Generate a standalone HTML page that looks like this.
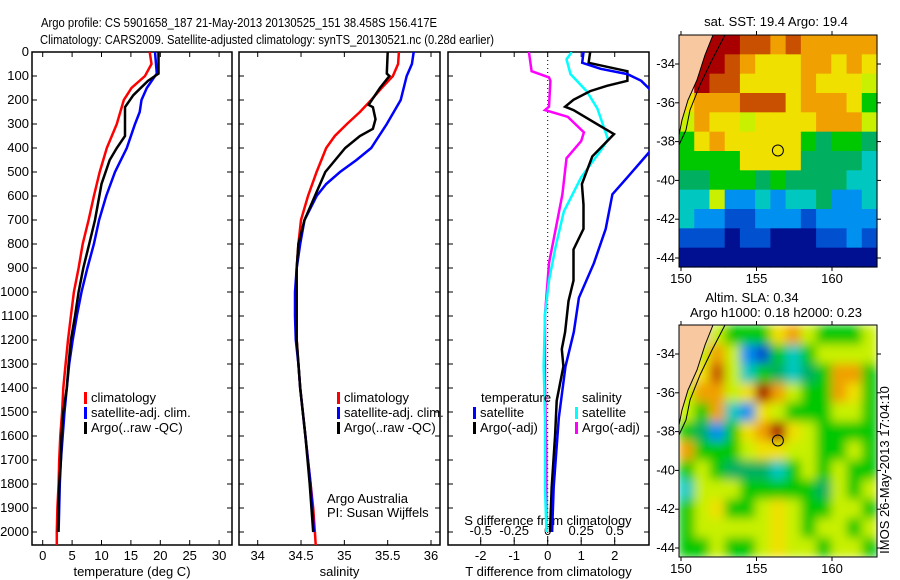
<!DOCTYPE html>
<html><head><meta charset="utf-8"><style>
body{margin:0;background:#fff}
svg{display:block;font-family:"Liberation Sans",sans-serif}
text{font-size:13px;fill:#000}
</style></head><body>
<svg id="c" width="900" height="580" viewBox="0 0 900 580">
<defs><filter id="blur" x="0" y="0" width="1" height="1"><feGaussianBlur stdDeviation="5"/></filter>
<clipPath id="clip-slamap"><rect x="679" y="325" width="198" height="232"/></clipPath></defs>
<text x="41" y="27" font-size="14" textLength="396" lengthAdjust="spacingAndGlyphs">Argo profile: CS 5901658_187 21-May-2013 20130525_151 38.458S 156.417E</text>
<text x="40" y="44" font-size="14" textLength="454" lengthAdjust="spacingAndGlyphs">Climatology: CARS2009. Satellite-adjusted climatology: synTS_20130521.nc (0.28d earlier)</text>
<g id="g"></g>
</svg>
<script>
// ---------- data ----------
const depthTicks=[0,100,200,300,400,500,600,700,800,900,1000,1100,1200,1300,1400,1500,1600,1700,1800,1900,2000];
const tempTicks=[0,5,10,15,20,25,30];
const salTicks=[34,34.5,35,35.5,36];
const sdiffTicks=[-0.5,-0.25,0,0.25,0.5];
const sdiffLabels=["-0.5","-0.25","0","0.25","0.5"];
const tdiffTicks=[-2,-1,0,1,2];
const tempClim=[[0,18.2],[50,18.5],[100,17.4],[150,15.1],[200,13.8],[300,12.6],[400,10.9],[500,9.7],[600,8.7],[700,7.8],[800,6.8],[900,6.1],[1000,5.3],[1100,4.8],[1200,4.3],[1300,3.9],[1400,3.5],[1500,3.3],[1600,3.0],[1700,2.8],[1800,2.7],[1900,2.5],[2000,2.4],[2060,2.4]];
const tempSat=[[0,19.1],[90,19.4],[100,19.1],[150,17.7],[200,16.8],[250,16.5],[300,15.7],[400,14.3],[500,12.3],[600,10.8],[700,9.6],[800,8.7],[900,7.6],[1000,6.6],[1100,5.8],[1200,5.1],[1300,4.5],[1400,4.1],[1500,3.7],[1600,3.4],[1700,3.1],[1800,2.9],[1900,2.8],[2000,2.7]];
const tempArgo=[[0,19.7],[90,19.7],[120,17.9],[180,15.4],[230,14.0],[350,14.0],[400,12.6],[450,11.4],[550,10.0],[700,8.9],[800,7.9],[900,6.9],[1000,6.1],[1100,5.5],[1200,4.8],[1300,4.4],[1400,4.1],[1500,3.5],[1600,3.2],[1700,3.1],[1800,2.8],[1900,2.7],[2000,2.6]];
const salClim=[[0,35.63],[50,35.62],[100,35.56],[150,35.43],[200,35.31],[250,35.18],[300,35.03],[350,34.89],[400,34.79],[500,34.68],[600,34.58],[700,34.50],[800,34.47],[900,34.45],[1000,34.44],[1100,34.44],[1200,34.45],[1300,34.47],[1400,34.49],[1500,34.52],[1600,34.55],[1700,34.58],[1800,34.61],[1900,34.64],[2000,34.66],[2060,34.67]];
const salSat=[[0,35.80],[50,35.78],[100,35.72],[200,35.65],[300,35.49],[400,35.31],[450,35.14],[500,34.95],[550,34.79],[600,34.68],[700,34.54],[800,34.49],[900,34.45],[1000,34.43],[1100,34.43],[1200,34.44],[1300,34.47],[1400,34.49],[1500,34.52],[1600,34.55],[1700,34.58],[1800,34.61],[1900,34.63],[2000,34.65]];
const salArgo=[[0,35.50],[90,35.49],[100,35.52],[150,35.41],[220,35.28],[230,35.33],[280,35.36],[320,35.33],[350,35.18],[400,35.01],[500,34.78],[600,34.66],[700,34.54],[800,34.47],[900,34.45],[1000,34.45],[1200,34.45],[1400,34.49],[1600,34.55],[1800,34.60],[2000,34.64]];
const tdiffSat=[[0,1.07],[45,1.03],[70,1.58],[92,2.38],[120,2.79],[163,3.1],[250,3.8],[350,3.6],[414,3.05],[522,2.38],[593,1.93],[737,1.73],[880,1.38],[1024,0.93],[1167,0.78],[1310,0.53],[1525,0.33],[1812,0.18],[2000,0.13]];
const tdiffArgo=[[0,1.27],[45,1.22],[80,2.38],[120,2.38],[141,1.77],[163,1.27],[199,0.77],[228,0.52],[242,0.77],[292,1.37],[342,1.98],[435,1.33],[550,1.02],[636,1.07],[737,1.07],[823,0.77],[952,0.77],[1038,0.62],[1167,0.52],[1238,0.42],[1310,0.47],[1453,0.27],[1597,0.22],[1812,0.12],[2000,0.07]];
const sdiffSat=[[0,0.18],[30,0.14],[92,0.17],[163,0.29],[235,0.37],[364,0.45],[407,0.40],[522,0.25],[665,0.12],[809,0.06],[952,0.01],[1095,-0.02],[1310,-0.03],[1525,-0.02],[1812,-0.02],[2000,-0.01]];
const sdiffArgo=[[0,-0.14],[80,-0.12],[106,0.01],[120,0.02],[228,0.01],[242,-0.02],[270,0.15],[335,0.27],[371,0.25],[443,0.14],[593,0.11],[737,0.06],[880,0.01],[1095,-0.02],[1382,-0.02],[1668,-0.01],[2000,-0.01]];
const lonTicks=[150,155,160];
const latTicks=[-34,-36,-38,-40,-42,-44];
const sstGrid=["sRRRrrOrOOOOO","sRRrOYYYOOYOY","sRrrYYYYOYYYL","YOOOrrrYOOOYG","LOYYLYYYYOOOL","GYOYYYYYGgGGg","GGGGYYYYggggC","ggGGGgGggggCC","CCLBBCBCCgBBC","CBBbbBBBbBBBB","bbbNbbNNNbbBb","NNNNNNNNNNNNN"];
const slaGrid=["ssLGGGYOLGGGL","sLOLBbGCGLLLL","sYrLCGgCgGOOG","LOOLYROLGGOYG","LGOCBYLGGGLLG","GgBGYORYLGGGG","OGGGLYYLLGGLG","GLGgggCGLGLGG","CLLLGGGGGgLGL","GLYGGLYLGGLLG","GLLLLLYLGLLGL","GGLGGLYLLGLLG"];
const argoLon=156.417, argoLat=-38.458;

// ---------- helpers ----------
const NS="http://www.w3.org/2000/svg";
const G=document.getElementById('g');
function el(tag,attrs,parent){const e=document.createElementNS(NS,tag);for(const k in attrs)e.setAttribute(k,attrs[k]);(parent||G).appendChild(e);return e;}
function txt(x,y,s,anchor,parent,size){const t=el('text',{x:x,y:y,'text-anchor':anchor||'start'},parent);if(size)t.setAttribute('font-size',size);t.textContent=s;return t;}
const TOP=52,BOT=545;
const yD=d=>TOP+d*0.24;

function panel(name,L,R,xf,ticks,labels,xlabel){
  const g=el('g',{});
  
  
  const clip=el('clipPath',{id:'clip-'+name},g);
  el('rect',{x:L,y:TOP,width:R-L,height:BOT-TOP},clip);
  const fr=el('rect',{x:L,y:TOP,width:R-L,height:BOT-TOP,fill:'none',stroke:'#000','stroke-width':1.5},g);
  
  
  depthTicks.forEach(d=>{const y=yD(d);el('line',{x1:L,x2:L+5,y1:y,y2:y,stroke:'#000'},g);el('line',{x1:R,x2:R-5,y1:y,y2:y,stroke:'#000'},g);});
  ticks.forEach((v,i)=>{const x=xf(v);el('line',{x1:x,x2:x,y1:BOT,y2:BOT-5,stroke:'#000'},g);el('line',{x1:x,x2:x,y1:TOP,y2:TOP+5,stroke:'#000'},g);
    if(labels){const t=txt(x,BOT+15,labels[i],'middle',g);}});
  if(xlabel){const t=txt((L+R)/2,BOT+31,xlabel,'middle',g);}
  return g;
}
function line(g,data,xf,color,name,clipId,w){
  const p=data.map((q,i)=>(i?'L':'M')+xf(q[1]).toFixed(1)+' '+yD(q[0]).toFixed(1)).join(' ');
  const e=el('path',{d:p,fill:'none',stroke:color,'stroke-width':w||2.5,'clip-path':'url(#'+clipId+')'},g);
  
  
}
function legend(g,x,y,color,label,name){
  const b=el('rect',{x:x,y:y-10,width:3,height:12,fill:color},g);
  
  
  const t=txt(x+7,y,label,'start',g,12);
  
  
}

depthTicks.forEach(d=>{const t=txt(29,yD(d)+4,String(d),'end',G,13);
  
  });

const xT=v=>42.7+v*5.88;
const gT=panel('temperature',32,232,xT,tempTicks,tempTicks.map(String),'temperature (deg C)');
line(gT,tempClim,xT,'#f00','temp-climatology-line','clip-temperature');
line(gT,tempSat,xT,'#00f','temp-satellite-line','clip-temperature');
line(gT,tempArgo,xT,'#000','temp-argo-line','clip-temperature');
legend(gT,84,402,'#f00','climatology','temp-legend-climatology');
legend(gT,84,417,'#00f','satellite-adj. clim.','temp-legend-satellite');
legend(gT,84,432,'#000','Argo(..raw -QC)','temp-legend-argo');

const xS=v=>257.7+(v-34)*86.65;
const gS=panel('salinity',239,440,xS,salTicks,salTicks.map(String),'salinity');
line(gS,salClim,xS,'#f00','sal-climatology-line','clip-salinity');
line(gS,salSat,xS,'#00f','sal-satellite-line','clip-salinity');
line(gS,salArgo,xS,'#000','sal-argo-line','clip-salinity');
legend(gS,337,402,'#f00','climatology','sal-legend-climatology');
legend(gS,337,417,'#00f','satellite-adj. clim.','sal-legend-satellite');
legend(gS,337,432,'#000','Argo(..raw -QC)','sal-legend-argo');
let t1=txt(327,503,'Argo Australia','start',gS,12);
let t2=txt(327,517,'PI: Susan Wijffels','start',gS,12);

const xTd=v=>547.7+v*33.5;
const xSd=v=>547.7+v*134;
const gD=panel('difference',448,649,xTd,tdiffTicks,tdiffTicks.map(String),'T difference from climatology');
el('line',{x1:xTd(0),x2:xTd(0),y1:TOP,y2:BOT,stroke:'#000','stroke-dasharray':'1 3'},gD);
sdiffTicks.forEach((v,i)=>{const x=xSd(v);el('line',{x1:x,x2:x,y1:BOT-8,y2:BOT-3,stroke:'#000'},gD);
  const t=txt(x,BOT-10,sdiffLabels[i],'middle',gD,12.5);
  
  });
let t3=txt(548,525,'S difference from climatology','middle',gD,12.5);
line(gD,sdiffArgo,xSd,'#f0f','sdiff-argo-line','clip-difference');
line(gD,sdiffSat,xSd,'#0ff','sdiff-satellite-line','clip-difference');
line(gD,tdiffArgo,xTd,'#000','tdiff-argo-line','clip-difference');
line(gD,tdiffSat,xTd,'#00f','tdiff-satellite-line','clip-difference');
let t4=txt(481,402,'temperature','start',gD,12);
legend(gD,473,417,'#00f','satellite','legend-tdiff-satellite');
legend(gD,473,432,'#000','Argo(-adj)','legend-tdiff-argo');
let t5=txt(582,402,'salinity','start',gD,12);
legend(gD,575,417,'#0ff','satellite','legend-sdiff-satellite');
legend(gD,575,432,'#f0f','Argo(-adj)','legend-sdiff-argo');

const COL={s:'#f8c8a0',R:'#a80000',r:'#c85000',O:'#f0a000',Y:'#f0e000',L:'#c8f000',G:'#00c800',g:'#00b060',C:'#00c8c0',B:'#0090f0',b:'#0050d0',N:'#001090'};
function map(name,top,grid,smooth){
  const L=679,R=877,bot=top+232;
  const g=el('g',{});
  
  
  const lx=v=>681+(v-150)*15.1;
  const ly=v=>top+29+(-34-v)*19.4;
  const cw=(R-L)/13,ch=(bot-top)/12;
  let cg=g;
  if(smooth){const outer=el('g',{'clip-path':'url(#clip-slamap)'},g);cg=el('g',{filter:'url(#blur)'},outer);}
  grid.forEach((row,j)=>{for(let i=0;i<13;i++){
    const c=el('rect',{x:(L+i*cw).toFixed(2),y:(top+j*ch).toFixed(2),width:(cw+0.6).toFixed(2),height:(ch+0.6).toFixed(2),fill:COL[row[i]]||'#0c0'},cg);
    
    }});
  const land=el('polygon',{points:`${L},${top} 713,${top} 705,${top+20} 697,${top+45} 688,${top+65} 682,${top+85} ${L},${top+100}`,fill:'#f8c8a0'},g);
  
  el('polyline',{points:`713,${top} 705,${top+20} 697,${top+45} 688,${top+65} 682,${top+85} ${L},${top+100}`,fill:'none',stroke:'#000'},g);
  el('polyline',{points:`725,${top} 712,${top+25} 700,${top+50} 690,${top+75} 686,${top+95} ${L},${top+110}`,fill:'none',stroke:'#000'},g);
  el('rect',{x:L,y:top,width:R-L,height:bot-top,fill:'none',stroke:'#000'},g);
  lonTicks.forEach(v=>{const x=lx(v);el('line',{x1:x,x2:x,y1:top,y2:top-4,stroke:'#000'},g);el('line',{x1:x,x2:x,y1:bot,y2:bot+4,stroke:'#000'},g);
    const t=txt(x,bot+16,String(v),'middle',g,12.5);});
  latTicks.forEach(v=>{const y=ly(v);el('line',{x1:L,x2:L-4,y1:y,y2:y,stroke:'#000'},g);el('line',{x1:R,x2:R+4,y1:y,y2:y,stroke:'#000'},g);
    const t=txt(675,y+4,String(v),'end',g,12.5);});
  const m=el('circle',{cx:lx(argoLon),cy:ly(argoLat),r:5.5,fill:'none',stroke:'#000'},g);
  
  return g;
}
const m1=map('sst',35,sstGrid,false);
let t6=txt(776,26,'sat. SST: 19.4 Argo: 19.4','middle',m1,12);
const m2=map('sla',325,slaGrid,true);
let t7=txt(752,302,'Altim. SLA: 0.34','middle',m2,12);
let t8=txt(776,317,'Argo h1000: 0.18 h2000: 0.23','middle',m2,12);
let t9=txt(0,0,'IMOS 26-May-2013 17:04:10','middle',G,12.5);
t9.setAttribute('transform','translate(889,470) rotate(-90)');


</script>
</body></html>
